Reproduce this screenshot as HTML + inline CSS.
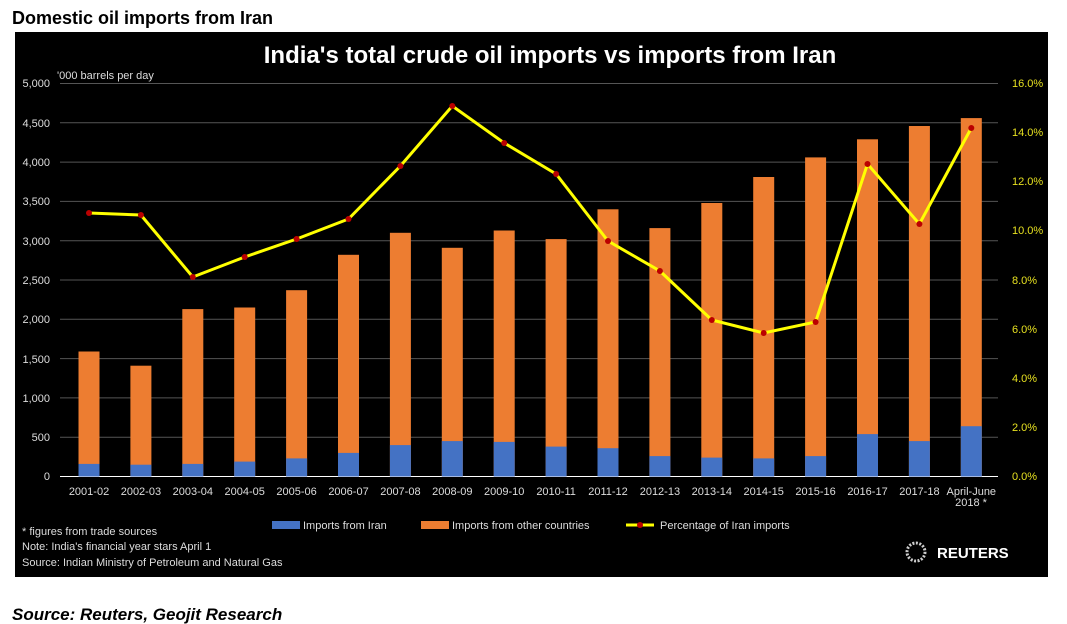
<!DOCTYPE html><html><head><style>body{margin:0;background:#fff;}svg{display:block;font-family:"Liberation Sans",sans-serif}</style></head><body>
<svg width="1067" height="624" xmlns="http://www.w3.org/2000/svg">
<text x="12" y="24" font-size="18" font-weight="bold" fill="#000">Domestic oil imports from Iran</text>
<rect x="15" y="32" width="1033" height="545" fill="#000"/>
<text x="550" y="63" font-size="24" font-weight="bold" fill="#fff" text-anchor="middle">India's total crude oil imports vs imports from Iran</text>
<text x="57" y="79" font-size="11" fill="#ddd">'000 barrels per day</text>
<g stroke="#555" stroke-width="1">
<line x1="60" x2="998" y1="83.5" y2="83.5"/><line x1="60" x2="998" y1="122.8" y2="122.8"/><line x1="60" x2="998" y1="162.1" y2="162.1"/><line x1="60" x2="998" y1="201.4" y2="201.4"/><line x1="60" x2="998" y1="240.7" y2="240.7"/><line x1="60" x2="998" y1="280" y2="280"/><line x1="60" x2="998" y1="319.3" y2="319.3"/><line x1="60" x2="998" y1="358.6" y2="358.6"/><line x1="60" x2="998" y1="397.9" y2="397.9"/><line x1="60" x2="998" y1="437.2" y2="437.2"/>
</g>
<line x1="60" x2="998" y1="476.5" y2="476.5" stroke="#fff"/>
<g font-size="11" fill="#ddd" text-anchor="end">
<text x="50" y="87">5,000</text><text x="50" y="127">4,500</text><text x="50" y="166">4,000</text><text x="50" y="205">3,500</text><text x="50" y="245">3,000</text><text x="50" y="284">2,500</text><text x="50" y="323">2,000</text><text x="50" y="363">1,500</text><text x="50" y="402">1,000</text><text x="50" y="441">500</text><text x="50" y="480">0</text>
</g>
<g font-size="11" fill="#e6e020">
<text x="1012" y="87">16.0%</text><text x="1012" y="136">14.0%</text><text x="1012" y="185">12.0%</text><text x="1012" y="234">10.0%</text><text x="1012" y="284">8.0%</text><text x="1012" y="333">6.0%</text><text x="1012" y="382">4.0%</text><text x="1012" y="431">2.0%</text><text x="1012" y="480">0.0%</text>
</g>
<g fill="#ed7d31">
<rect x="78.5" y="351.5" width="21" height="125"/>
<rect x="130.4" y="365.7" width="21" height="110.8"/>
<rect x="182.3" y="309.1" width="21" height="167.4"/>
<rect x="234.2" y="307.5" width="21" height="169"/>
<rect x="286.1" y="290.2" width="21" height="186.3"/>
<rect x="338" y="254.8" width="21" height="221.7"/>
<rect x="389.9" y="232.8" width="21" height="243.7"/>
<rect x="441.8" y="247.8" width="21" height="228.7"/>
<rect x="493.7" y="230.5" width="21" height="246"/>
<rect x="545.6" y="239.1" width="21" height="237.4"/>
<rect x="597.5" y="209.3" width="21" height="267.2"/>
<rect x="649.4" y="228.1" width="21" height="248.4"/>
<rect x="701.3" y="203" width="21" height="273.5"/>
<rect x="753.2" y="177" width="21" height="299.5"/>
<rect x="805.1" y="157.4" width="21" height="319.1"/>
<rect x="857" y="139.3" width="21" height="337.2"/>
<rect x="908.9" y="126" width="21" height="350.5"/>
<rect x="960.8" y="118.1" width="21" height="358.4"/>
</g>
<g fill="#4472c4">
<rect x="78.5" y="463.9" width="21" height="12.6"/>
<rect x="130.4" y="464.7" width="21" height="11.8"/>
<rect x="182.3" y="463.9" width="21" height="12.6"/>
<rect x="234.2" y="461.6" width="21" height="14.9"/>
<rect x="286.1" y="458.4" width="21" height="18.1"/>
<rect x="338" y="452.9" width="21" height="23.6"/>
<rect x="389.9" y="445.1" width="21" height="31.4"/>
<rect x="441.8" y="441.1" width="21" height="35.4"/>
<rect x="493.7" y="441.9" width="21" height="34.6"/>
<rect x="545.6" y="446.6" width="21" height="29.9"/>
<rect x="597.5" y="448.2" width="21" height="28.3"/>
<rect x="649.4" y="456.1" width="21" height="20.4"/>
<rect x="701.3" y="457.6" width="21" height="18.9"/>
<rect x="753.2" y="458.4" width="21" height="18.1"/>
<rect x="805.1" y="456.1" width="21" height="20.4"/>
<rect x="857" y="434.1" width="21" height="42.4"/>
<rect x="908.9" y="441.1" width="21" height="35.4"/>
<rect x="960.8" y="426.2" width="21" height="50.3"/>
</g>
<polyline fill="none" stroke="#ffff00" stroke-width="3" points="89,213 140.9,215 192.8,277 244.7,257 296.6,239 348.5,219 400.4,166 452.3,106 504.2,143 556.1,174 608,241 659.9,271 711.8,320 763.7,333 815.6,322 867.5,164 919.4,224 971.3,128"/>
<g fill="#b00">
<circle cx="89" cy="213" r="3"/><circle cx="140.9" cy="215" r="3"/><circle cx="192.8" cy="277" r="3"/><circle cx="244.7" cy="257" r="3"/><circle cx="296.6" cy="239" r="3"/><circle cx="348.5" cy="219" r="3"/><circle cx="400.4" cy="166" r="3"/><circle cx="452.3" cy="106" r="3"/><circle cx="504.2" cy="143" r="3"/><circle cx="556.1" cy="174" r="3"/><circle cx="608" cy="241" r="3"/><circle cx="659.9" cy="271" r="3"/><circle cx="711.8" cy="320" r="3"/><circle cx="763.7" cy="333" r="3"/><circle cx="815.6" cy="322" r="3"/><circle cx="867.5" cy="164" r="3"/><circle cx="919.4" cy="224" r="3"/><circle cx="971.3" cy="128" r="3"/>
</g>
<g font-size="11" fill="#ddd" text-anchor="middle">
<text x="89" y="495">2001-02</text><text x="140.9" y="495">2002-03</text><text x="192.8" y="495">2003-04</text><text x="244.7" y="495">2004-05</text><text x="296.6" y="495">2005-06</text><text x="348.5" y="495">2006-07</text><text x="400.4" y="495">2007-08</text><text x="452.3" y="495">2008-09</text><text x="504.2" y="495">2009-10</text><text x="556.1" y="495">2010-11</text><text x="608" y="495">2011-12</text><text x="659.9" y="495">2012-13</text><text x="711.8" y="495">2013-14</text><text x="763.7" y="495">2014-15</text><text x="815.6" y="495">2015-16</text><text x="867.5" y="495">2016-17</text><text x="919.4" y="495">2017-18</text><text x="971.3" y="495">April-June</text>
</g>
<text x="971" y="506" font-size="11" fill="#ddd" text-anchor="middle">2018 *</text>
<rect x="272" y="521" width="28" height="8" fill="#4472c4"/><text x="303" y="529" font-size="11" fill="#ddd">Imports from Iran</text>
<rect x="421" y="521" width="28" height="8" fill="#ed7d31"/><text x="452" y="529" font-size="11" fill="#ddd">Imports from other countries</text>
<line x1="626" x2="654" y1="525" y2="525" stroke="#ffff00" stroke-width="3"/><circle cx="640" cy="525" r="3" fill="#b00"/><text x="660" y="529" font-size="11" fill="#ddd">Percentage of Iran imports</text>
<text x="22" y="535" font-size="11" fill="#ddd">* figures from trade sources</text>
<text x="22" y="550" font-size="11" fill="#ddd">Note: India's financial year stars April 1</text>
<text x="22" y="566" font-size="11" fill="#ddd">Source: Indian Ministry of Petroleum and Natural Gas</text>
<circle cx="916" cy="552" r="9" fill="none" stroke="#ccc" stroke-width="3" stroke-dasharray="2 1.5"/>
<text x="937" y="558" font-size="15" font-weight="bold" fill="#fff">REUTERS</text>
<text x="12" y="620" font-size="17" font-weight="bold" font-style="italic" fill="#000">Source:  Reuters, Geojit Research</text>
</svg></body></html>
